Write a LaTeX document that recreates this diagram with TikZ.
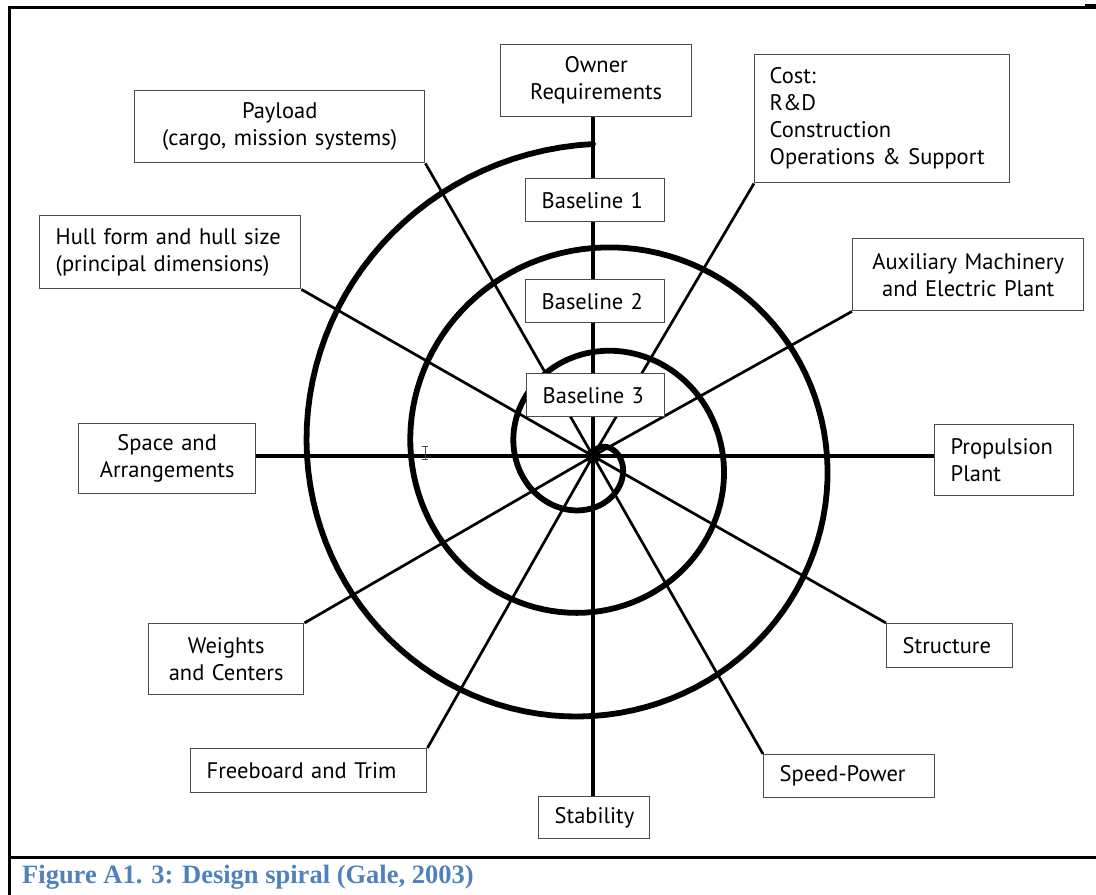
\documentclass[tikz,border=0pt]{standalone}
\usepackage{fontspec}
\setmainfont{Liberation Serif}
\newfontfamily\boxfont{PT Sans}
\usepackage{xcolor}
\usepackage{tikz}
\usetikzlibrary{backgrounds}

\definecolor{captionblue}{HTML}{4F81BD}

\tikzset{
  label box/.style={draw=black!70, line width=1.4pt, fill=white, anchor=north west,
    font=\boxfont\fontsize{22.5}{27}\selectfont, inner xsep=16pt, inner ysep=0pt},
  axis line/.style={black, line width=3.2pt},
  spoke/.style={black, line width=2.7pt},
  spiral/.style={black, line width=5.8pt, line cap=round},
  frame/.style={black, line width=3pt}
}

\begin{document}
\begin{tikzpicture}[x=1pt, y=-1pt]
\useasboundingbox (0,0) rectangle (1096,895);

% page frame and caption
\draw [frame] (9,7) -- (1096,7);
\draw [frame, line width=4pt] (1085,6) -- (1096,6);
\draw [frame] (9,5.5) -- (9,895);
\draw [frame] (9,857) -- (1096,857);
\node [anchor=base west, inner sep=0pt, text=captionblue, font=\bfseries\fontsize{26.5}{30}\selectfont] (caption) at (22,883) {Figure A1. 3: Design spiral (Gale, 2003)};

\coordinate (hub) at (593,456);

% boxes round the spiral
\node [label box, minimum width=191pt, minimum height=72pt, text width=159pt, align=center] (owner) at (500,44) {Owner\\Requirements};
\node [label box, minimum width=255pt, minimum height=128pt, text width=225pt, inner xsep=15pt, align=left] (cost) at (754,54) {Cost:\\R\&D\\Construction\\Operations \& Support};
\node [label box, minimum width=290pt, minimum height=72pt, text width=258pt, align=center] (payload) at (134,90) {Payload\\(cargo, mission systems)};
\node [label box, minimum width=139pt, minimum height=43pt, text width=107pt, align=left] (base1) at (525,178) {Baseline 1};
\node [label box, minimum width=139pt, minimum height=43pt, text width=107pt, align=left] (base2) at (525,279) {Baseline 2};
\node [label box, minimum width=138pt, minimum height=43pt, text width=106pt, align=left] (base3) at (526,373) {Baseline 3};
\node [label box, minimum width=261pt, minimum height=73pt, text width=229pt, align=left] (hull) at (39,215) {Hull form and hull size\\(principal dimensions)};
\node [label box, minimum width=231pt, minimum height=72pt, text width=199pt, align=center] (aux) at (852,238) {Auxiliary Machinery\\and Electric Plant};
\node [label box, minimum width=177pt, minimum height=70pt, text width=145pt, align=center] (space) at (78,423) {Space and\\Arrangements};
\node [label box, minimum width=139pt, minimum height=71pt, text width=107pt, align=left] (prop) at (934,424) {Propulsion\\Plant};
\node [label box, minimum width=155pt, minimum height=71pt, text width=123pt, align=center] (weights) at (148,623) {Weights\\and Centers};
\node [label box, minimum width=126pt, minimum height=44pt, text width=94pt, align=left] (struct) at (886,623) {Structure};
\node [label box, minimum width=236pt, minimum height=44pt, text width=204pt, align=left] (freeboard) at (190,748) {Freeboard and Trim};
\node [label box, minimum width=171pt, minimum height=43pt, text width=139pt, align=left] (speed) at (763,754) {Speed-Power};
\node [label box, minimum width=111pt, minimum height=42pt, text width=79pt, align=left] (stab) at (538,796) {Stability};

\begin{scope}[on background layer]
  % main axes
  \draw [axis line] (owner.south -| hub) -- (stab.north -| hub);
  \draw [axis line] (hub -| space.east) -- (hub -| prop.west);
  % spokes to the box corners
  \draw [spoke] (hub) -- (payload.south east);
  \draw [spoke] (hub) -- (hull.south east);
  \draw [spoke] (hub) -- (cost.south west);
  \draw [spoke] (hub) -- (aux.south west);
  \draw [spoke] (hub) -- (weights.north east);
  \draw [spoke] (hub) -- (freeboard.north east);
  \draw [spoke] (hub) -- (struct.north west);
  \draw [spoke] (hub) -- (speed.north west);
  % three turns, radius shrinking 26 per quarter
  \draw [spiral] plot [domain=0:1080, samples=361, variable=\t]
    ({593-(312-0.288889*\t)*sin(\t)}, {456-(312-0.288889*\t)*cos(\t)});
  \fill (hub) circle (7.5);
  % text cursor
  \draw [black!70, line width=0.8pt] (425,446) -- (425,459) (422,446) -- (428,446) (422,459) -- (428,459);
\end{scope}

\end{tikzpicture}
\end{document}
